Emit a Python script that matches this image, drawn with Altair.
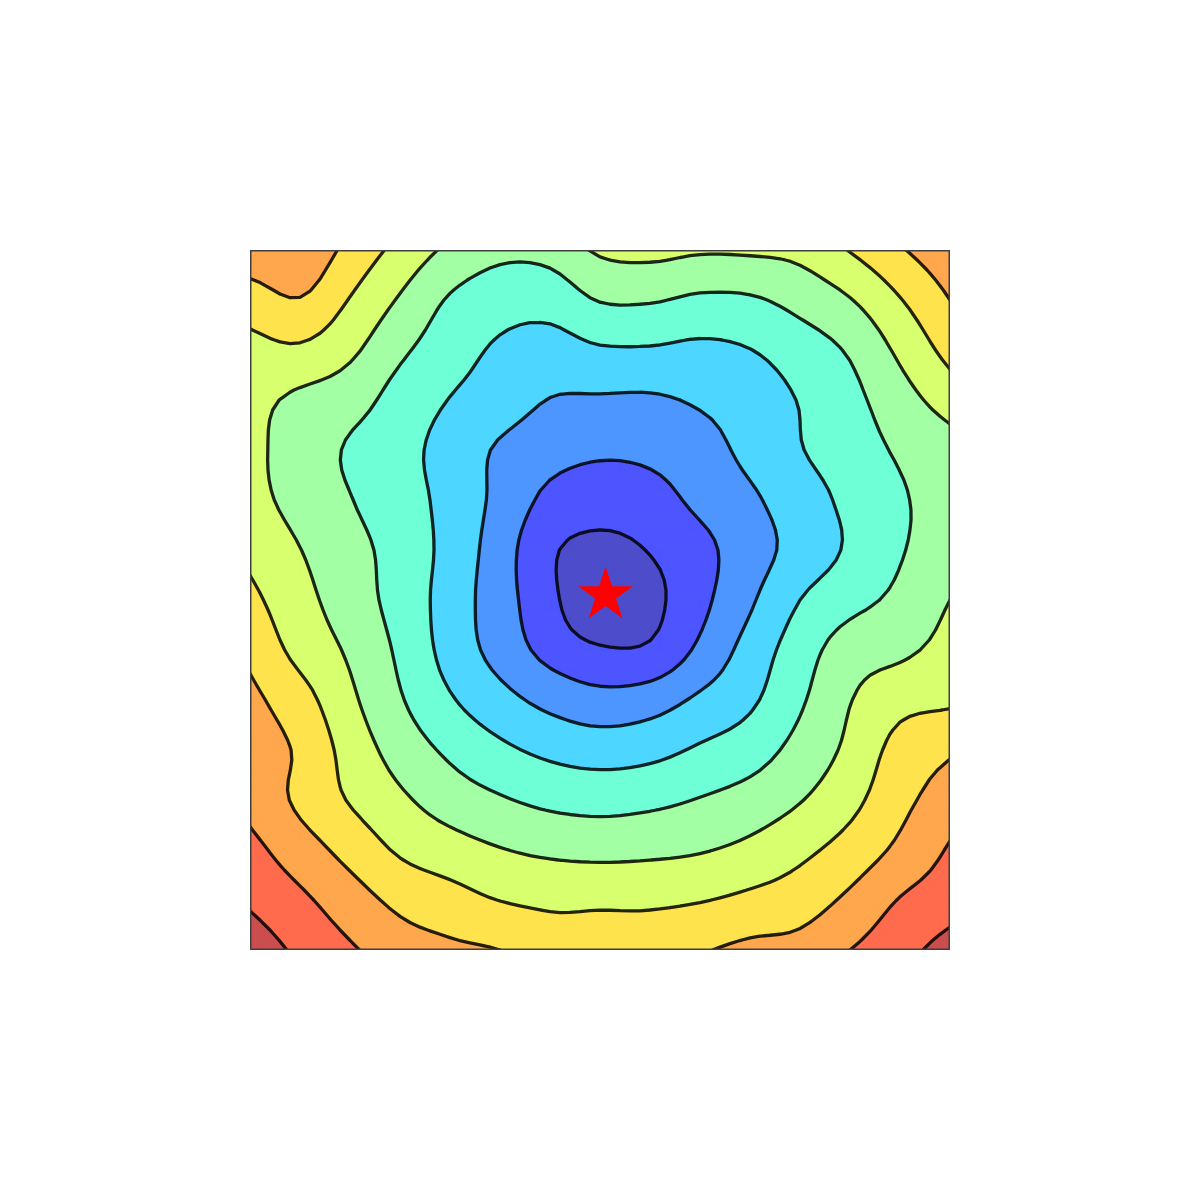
import altair as alt
import numpy as np
import pandas as pd

alt.data_transformers.disable_max_rows()

# Rows run from the top edge (y = 1) to the bottom edge (y = 0),
# columns from the left edge (x = 0) to the right edge (x = 1).
field_rows = [
    [8.7, 8.8, 7.7, 6.7, 5.8, 5.25, 5.35, 6.15, 6.3, 6.12, 6.15, 6.3, 7.05, 7.9, 8.7],
    [7.52, 7.95, 6.95, 5.9, 4.9, 4.42, 4.4, 5.05, 5.08, 4.83, 4.88, 5.33, 5.95, 6.95, 8.0],
    [6.7, 6.84, 6.2, 5.19, 4.45, 3.85, 3.6, 3.89, 3.91, 3.79, 3.98, 4.5, 5.12, 6.2, 7.33],
    [6.3, 5.8, 5.42, 4.61, 3.97, 3.5, 2.97, 2.89, 2.87, 3.12, 3.47, 4.05, 4.71, 5.6, 6.44],
    [6.2, 5.62, 4.88, 4.32, 3.63, 2.87, 2.37, 2.15, 2.23, 2.6, 3.27, 3.95, 4.52, 5.13, 5.6],
    [6.3, 5.68, 5.04, 4.41, 3.69, 2.73, 1.75, 1.46, 1.63, 2.23, 2.83, 3.54, 4.24, 4.9, 5.35],
    [6.75, 6.02, 5.34, 4.6, 3.68, 2.48, 1.15, 0.7, 1.05, 1.71, 2.55, 3.38, 4.14, 4.93, 5.46],
    [7.25, 6.33, 5.49, 4.62, 3.57, 2.43, 1.26, 0.05, 0.7, 1.73, 2.86, 4.0, 4.69, 5.23, 6.0],
    [7.75, 6.69, 5.85, 4.82, 3.63, 2.62, 1.67, 1.12, 1.15, 2.2, 3.39, 4.52, 5.5, 5.8, 6.34],
    [8.25, 7.4, 6.2, 5.09, 4.1, 3.34, 2.71, 2.34, 2.54, 3.18, 3.83, 4.86, 5.96, 6.66, 6.85],
    [8.5, 7.85, 6.6, 5.59, 4.81, 4.21, 3.77, 3.56, 3.7, 4.13, 4.55, 5.34, 6.23, 7.36, 7.86],
    [8.7, 7.81, 6.93, 6.18, 5.53, 5.1, 4.77, 4.65, 4.77, 5.05, 5.4, 5.95, 6.71, 7.72, 8.5],
    [9.3, 8.47, 7.67, 6.87, 6.43, 6.05, 5.81, 5.71, 5.78, 5.93, 6.25, 6.76, 7.4, 8.22, 9.1],
    [9.85, 9.2, 8.45, 7.75, 7.38, 6.98, 6.83, 6.85, 6.85, 6.95, 7.22, 7.53, 8.2, 9.05, 9.57],
    [10.6, 9.8, 9.13, 8.48, 8.2, 8.0, 7.45, 7.4, 7.45, 7.9, 8.25, 8.36, 9.0, 9.67, 10.4],
]
x_extent = [0.0, 1.0]
y_extent = [0.0, 1.0]
contour_levels = [1, 2, 3, 4, 5, 6, 7, 8, 9, 10]
star_x = [0.508]
star_y = [0.507]

# jet colormap (alpha 0.7 on white), one colour per band
band_colors = ["#4d4dcb", "#4d55ff", "#4d96ff", "#4dd6ff", "#6effd7", "#a3ffa3",
               "#d7ff6e", "#ffe34d", "#ffa74d", "#ff6b4d", "#cb4d4d"]

STAR = ("M0,-1L0.2245,-0.309L0.9511,-0.309L0.3633,0.118L0.5878,0.809L0,0.382"
        "L-0.5878,0.809L-0.3633,0.118L-0.9511,-0.309L-0.2245,-0.309Z")

# ---------- contouring (smooth resampling + marching squares) ----------
Z = np.array(field_rows, dtype=float)[::-1]   # row 0 -> bottom
F = 5


def upsample_last(A, f):
    n = A.shape[-1]
    P = np.concatenate([2 * A[..., :1] - A[..., 1:2], A,
                        2 * A[..., -1:] - A[..., -2:-1]], axis=-1)
    m = (n - 1) * f + 1
    s = np.arange(m) / f
    i = np.minimum(np.floor(s).astype(int), n - 2)
    t = s - i
    p0, p1, p2, p3 = P[..., i], P[..., i + 1], P[..., i + 2], P[..., i + 3]
    return 0.5 * (2 * p1 + (p2 - p0) * t + (2 * p0 - 5 * p1 + 4 * p2 - p3) * t ** 2
                  + (3 * p1 - p0 - 3 * p2 + p3) * t ** 3)


V = upsample_last(upsample_last(Z, F).T, F).T
rows, cols = V.shape
fx = np.linspace(x_extent[0], x_extent[1], cols)
fy = np.linspace(y_extent[0], y_extent[1], rows)
lv = np.array(contour_levels, dtype=float)
band = np.searchsorted(lv, V, side="right")


def clip(poly, thr, above):
    out = []
    n = len(poly)
    for idx in range(n):
        cur = poly[idx]
        prev = poly[idx - 1]
        cin = (cur[2] >= thr) if above else (cur[2] < thr)
        pin = (prev[2] >= thr) if above else (prev[2] < thr)
        if cin != pin:
            t = (thr - prev[2]) / (cur[2] - prev[2])
            out.append((prev[0] + t * (cur[0] - prev[0]),
                        prev[1] + t * (cur[1] - prev[1]), thr))
        if cin:
            out.append(cur)
    return out


def ring(pts):
    r = [[round(float(p[0]), 5), round(float(p[1]), 5)] for p in pts]
    r.append(r[0])
    return r


def poly_feature(pts, k):
    return {"type": "Feature",
            "geometry": {"type": "Polygon", "coordinates": [ring(pts)]},
            "properties": {"band": int(k)}}


fills = []
for r in range(rows - 1):
    run = None  # [start, end, band]

    def flush(run):
        if run is not None:
            c0, c1, k = run
            fills.append(poly_feature([(fx[c0], fy[r]), (fx[c1 + 1], fy[r]),
                                       (fx[c1 + 1], fy[r + 1]), (fx[c0], fy[r + 1])], k))

    for c in range(cols - 1):
        b4 = (band[r, c], band[r, c + 1], band[r + 1, c + 1], band[r + 1, c])
        if min(b4) == max(b4):
            if run is not None and run[2] == b4[0]:
                run[1] = c
            else:
                flush(run)
                run = [c, c, b4[0]]
        else:
            flush(run)
            run = None
            corners = [(fx[c], fy[r], V[r, c]), (fx[c + 1], fy[r], V[r, c + 1]),
                       (fx[c + 1], fy[r + 1], V[r + 1, c + 1]), (fx[c], fy[r + 1], V[r + 1, c])]
            for k in range(min(b4), max(b4) + 1):
                poly = corners
                if k > 0:
                    poly = clip(poly, lv[k - 1], True)
                if k < len(lv) and len(poly) > 0:
                    poly = clip(poly, lv[k], False)
                if len(poly) >= 3:
                    fills.append(poly_feature([(p[0], p[1]) for p in poly], k))
    flush(run)

segs = {L: [] for L in contour_levels}
for r in range(rows - 1):
    for c in range(cols - 1):
        vals = [V[r, c], V[r, c + 1], V[r + 1, c + 1], V[r + 1, c]]
        pts = [(fx[c], fy[r]), (fx[c + 1], fy[r]), (fx[c + 1], fy[r + 1]), (fx[c], fy[r + 1])]
        lo, hi = min(vals), max(vals)
        for L in contour_levels:
            if not (lo < L <= hi):
                continue
            cr = {}
            for e in range(4):
                a, b = vals[e], vals[(e + 1) % 4]
                if (a >= L) != (b >= L):
                    t = (L - a) / (b - a)
                    pa, pb = pts[e], pts[(e + 1) % 4]
                    cr[e] = [round(float(pa[0] + t * (pb[0] - pa[0])), 5),
                             round(float(pa[1] + t * (pb[1] - pa[1])), 5)]
            if len(cr) == 2:
                e1, e2 = sorted(cr)
                segs[L].append([cr[e1], cr[e2]])
            elif len(cr) == 4:
                center = sum(vals) / 4.0
                if (center >= L) == (vals[0] >= L):
                    segs[L].append([cr[0], cr[1]])
                    segs[L].append([cr[2], cr[3]])
                else:
                    segs[L].append([cr[3], cr[0]])
                    segs[L].append([cr[1], cr[2]])

line_feats = [{"type": "Feature",
               "geometry": {"type": "MultiLineString", "coordinates": segs[L]},
               "properties": {"level": L}} for L in contour_levels if segs[L]]

frame_feat = [{"type": "Feature",
               "geometry": {"type": "Polygon", "coordinates": [ring([
                   (x_extent[0], y_extent[0]), (x_extent[1], y_extent[0]),
                   (x_extent[1], y_extent[1]), (x_extent[0], y_extent[1])])]},
               "properties": {"name": "frame"}}]

# ---------- chart ----------
W = 700
proj = dict(type="identity", scale=W, translate=[0, W], reflectY=True)
band_scale = alt.Scale(domain=list(range(len(band_colors))), range=band_colors)

fill_layer = alt.Chart(alt.Data(values=fills)).mark_geoshape(strokeWidth=0.7).encode(
    color=alt.Color("properties.band:O", scale=band_scale, legend=None),
    stroke=alt.Stroke("properties.band:O", scale=band_scale, legend=None),
).project(**proj)

line_layer = alt.Chart(alt.Data(values=line_feats)).mark_geoshape(
    filled=False, strokeCap="round", strokeJoin="round"
).encode(
    stroke=alt.value("black"),
    strokeWidth=alt.value(3.3),
    strokeOpacity=alt.value(0.85),
).project(**proj)

frame_layer = alt.Chart(alt.Data(values=frame_feat)).mark_geoshape(
    filled=False, strokeJoin="miter"
).encode(
    stroke=alt.value("#3f3f3f"),
    strokeWidth=alt.value(3.0),
).project(**proj)

star_layer = alt.Chart(pd.DataFrame({"sx": star_x, "sy": star_y})).mark_point(
    shape=STAR, filled=True, fill="red", size=3300, strokeWidth=0, opacity=1
).encode(longitude="sx:Q", latitude="sy:Q").project(**proj)

chart = alt.layer(fill_layer, line_layer, frame_layer, star_layer).properties(
    width=W, height=W,
    padding={"left": 250, "top": 250, "right": 250, "bottom": 250},
    autosize=alt.AutoSizeParams(type="none"),
    background="white",
).configure_view(strokeWidth=0)

chart.save("out.html", embed_options={"renderer": "svg", "actions": False})
